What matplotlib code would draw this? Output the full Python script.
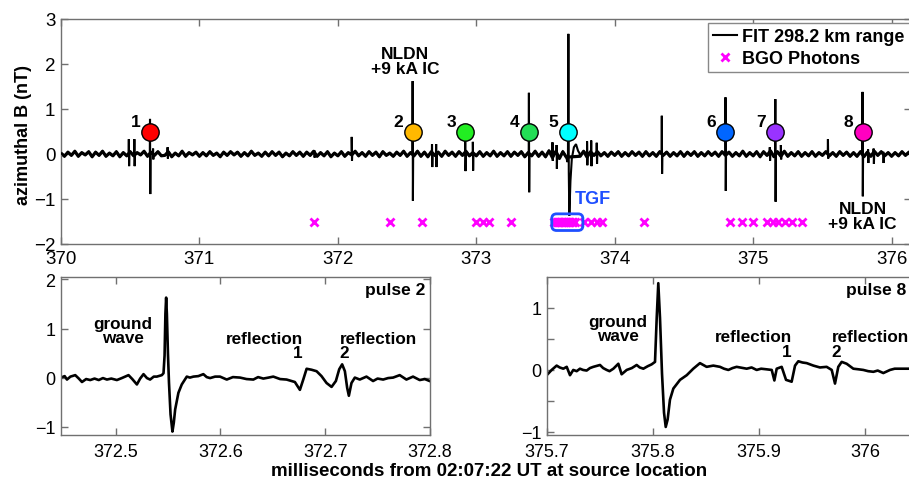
import numpy as np
import matplotlib
matplotlib.use("Agg")
import matplotlib.pyplot as plt
from matplotlib.patches import FancyBboxPatch

plt.rcParams['font.family'] = ['Liberation Sans', 'DejaVu Sans']

# ------------------------------------------------------------------ data
# top panel: baseline noise of FIT trace (hundredths of nT), every 0.025 ms from 370.0
base_start = 370.0
base_step = 0.025
base_noise = [
    2, -5, 4, -3, 6, -5, 3, -2, 5, -6,
    4, -3, 6, -5, 2, -4, 5, -6, 3, -4,
    5, -4, 3, -2, 6, -5, 4, -3, 5, -4,
    -3, 5, -6, 2, -4, 6, -5, 3, -2, 4,
    -5, 3, -4, 5, -3, 2, -6, 4, -3, 5,
    -2, 4, -5, 3, -4, 6, -3, 2, -5, 4,
    -4, 5, -3, 4, -6, 2, -4, 5, -3, 4,
    -5, 4, -3, 6, -5, 3, -4, 5, -6, 2,
    -4, 5, -5, 3, -2, 6, -4, 3, -5, 5,
    -3, 4, -6, 5, -3, 2, -5, 4, -3, 6,
    -5, 3, -4, 6, -5, 4, -6, 5, -3, 4,
    -5, 6, -3, 4, -5, 5, -3, 6, -4, 3,
    -4, 5, -5, 3, -4, 6, -5, 3, -4, 5,
    -5, 4, -3, 5, -6, 3, -4, 6, -5, 4,
    -6, 7, -8, 6, -10, 5, -7, 9, 6, 3,
    -5, 6, -7, 5, -3, 5, -4, 3, -5, 4,
    -3, 5, -5, 3, -4, 5, -3, 4, -5, 5,
    -4, 3, -5, 5, -3, 4, -5, 3, -4, 5,
    -5, 4, -3, 5, -5, 3, -4, 5, -3, 4,
    -5, 5, -3, 4, -5, 3, -4, 6, -5, 3,
    -4, 5, -6, 5, -3, 7, -6, 5, -5, 6,
    -5, 3, -4, 5, -5, 3, -4, 5, -5, 3,
    -3, 5, -4, 3, -5, 5, -3, 4, -5, 3,
    -5, 5, -6, 4, -5, 6, -3, 5, -4, 3,
    -5, 3, -4, 5, -3, 4, -5]

# sharp sferic spikes in the top trace: time (ms), max (nT), min (nT)
spike_t = [370.49, 370.53, 370.643, 370.665, 370.77, 371.83, 372.10, 372.54,
           372.68, 372.71, 372.92, 372.975, 373.38, 373.55, 373.58, 373.80,
           373.83, 373.87, 374.34, 374.80, 375.12, 375.16, 375.20, 375.54,
           375.79, 375.83, 375.87, 375.94]
spike_hi = [0.33, 0.33, 0.78, 0.12, 0.15, 0.08, 0.38, 1.62,
            0.22, 0.22, 0.45, 0.27, 1.36, 0.26, 0.20, 0.28,
            0.30, 0.25, 0.85, 1.26, 0.15, 1.22, 0.20, 0.33,
            1.38, 0.10, 0.12, 0.05]
spike_lo = [-0.27, -0.27, -0.89, -0.12, -0.10, -0.08, -0.15, -1.04,
            -0.29, -0.29, -0.38, -0.37, -0.85, -0.15, -0.33, -0.25,
            -0.27, -0.22, -0.44, -0.82, -0.15, -1.06, -0.12, -0.10,
            -0.94, -0.20, -0.22, -0.20]

# pulse 5 (TGF) waveform
p5_t = [373.658, 373.662, 373.665, 373.668, 373.672, 373.680, 373.690,
        373.705, 373.720, 373.735, 373.745]
p5_v = [-0.18, 0.0, 2.67, -0.40, -1.37, -0.60, -0.10, 0.15, 0.22, 0.07, 0.02]

# numbered pulses
pulse_t = [370.643, 372.54, 372.92, 373.38, 373.66, 374.80, 375.16, 375.79]
pulse_labels = ['1', '2', '3', '4', '5', '6', '7', '8']
pulse_colors = ['#ff0000', '#ffb800', '#22ee22', '#22dd55', '#00ffff',
                '#0066ff', '#9933ff', '#ff00c0']
pulse_marker_y = 0.5

# BGO photon arrival times
bgo_t = [371.83, 372.38, 372.61, 373.00, 373.05, 373.09, 373.25,
         373.56, 373.57, 373.58, 373.59, 373.60, 373.61, 373.62, 373.63,
         373.64, 373.65, 373.66, 373.67, 373.68, 373.69, 373.70, 373.71,
         373.78, 373.83, 373.87, 373.91, 374.21, 374.83, 374.92, 375.00,
         375.10, 375.14, 375.18, 375.23, 375.28, 375.35]
bgo_y = -1.5

# zoomed waveform of pulse 2 (ms, nT)
pulse2_trace = [
    (372.448, 0.0), (372.4515, 0.03), (372.4537, -0.04), (372.457, 0.02),
    (372.4616, 0.05), (372.465, -0.02), (372.468, -0.09), (372.472, -0.03),
    (372.4759, -0.05), (372.480, -0.02), (372.484, -0.05), (372.488, -0.01),
    (372.4918, -0.04), (372.496, -0.02), (372.5013, -0.05), (372.506, -0.01),
    (372.5124, 0.05), (372.516, -0.03), (372.5204, -0.14), (372.5235, -0.02),
    (372.5267, 0.07), (372.530, -0.01), (372.533, -0.04), (372.5365, 0.02),
    (372.5394, 0.02), (372.5442, 0.05), (372.5458, 0.09), (372.5468, 0.45),
    (372.5476, 1.30), (372.5483, 1.63), (372.5490, 1.30), (372.5500, 0.50),
    (372.5510, -0.10), (372.5525, -0.75), (372.5543, -1.10), (372.5556, -0.92),
    (372.5569, -0.65), (372.560, -0.31), (372.5632, -0.14), (372.568, 0.02),
    (372.571, 0.00), (372.5743, 0.02), (372.579, 0.03), (372.5838, 0.07),
    (372.587, 0.01), (372.5902, -0.01), (372.595, 0.02), (372.5997, 0.02),
    (372.6061, -0.04), (372.612, 0.01), (372.6188, 0.00), (372.625, -0.03),
    (372.6315, -0.04), (372.636, 0.01), (372.641, -0.02), (372.646, 0.00),
    (372.6505, 0.02), (372.657, -0.03), (372.6632, -0.04), (372.6711, -0.09),
    (372.6759, -0.25), (372.6791, -0.04), (372.6823, 0.18), (372.687, 0.16),
    (372.6918, 0.13), (372.6965, 0.03), (372.7013, -0.11), (372.7061, -0.19),
    (372.7102, -0.07), (372.7134, 0.17), (372.7162, 0.27), (372.7188, 0.13),
    (372.721, -0.21), (372.7226, -0.37), (372.7251, -0.11), (372.7283, 0.00),
    (372.733, -0.04), (372.7394, 0.02), (372.7457, -0.07), (372.750, -0.02),
    (372.7553, -0.04), (372.760, -0.01), (372.7648, 0.00), (372.7711, 0.05),
    (372.7775, -0.04), (372.7838, 0.02), (372.7902, -0.05), (372.795, -0.03),
    (372.7997, -0.07)]

# zoomed waveform of pulse 8 (ms, nT)
pulse8_trace = [
    (375.700, -0.08), (375.7044, 0.0), (375.7091, 0.07), (375.712, 0.04),
    (375.7154, 0.02), (375.7186, 0.05), (375.7217, -0.085), (375.7248, 0.0),
    (375.728, -0.02), (375.7311, 0.02), (375.734, 0.0), (375.7374, -0.01),
    (375.7405, 0.03), (375.7437, 0.05), (375.75, 0.08), (375.753, 0.03),
    (375.7563, 0.0), (375.759, -0.02), (375.7626, 0.02), (375.7673, 0.10),
    (375.7704, -0.07), (375.7752, 0.0), (375.780, 0.03), (375.7846, 0.08),
    (375.7875, 0.04), (375.7909, 0.02), (375.795, 0.06), (375.7987, 0.09),
    (375.8019, 0.13), (375.8035, 0.84), (375.805, 1.40), (375.8066, 0.84),
    (375.8085, -0.06), (375.8104, -0.69), (375.812, -0.92), (375.8138, -0.80),
    (375.816, -0.48), (375.8192, -0.30), (375.8255, -0.16), (375.8318, -0.085),
    (375.838, 0.02), (375.8443, 0.11), (375.8506, 0.05), (375.8569, 0.07),
    (375.8632, 0.05), (375.867, 0.02), (375.8711, 0.0), (375.875, 0.03),
    (375.8789, 0.05), (375.8884, 0.02), (375.893, 0.04), (375.8978, 0.0),
    (375.902, 0.02), (375.9072, 0.01), (375.912, 0.0), (375.9145, -0.17),
    (375.9167, 0.02), (375.9214, 0.05), (375.9255, -0.16), (375.9308, -0.19),
    (375.934, 0.07), (375.9371, 0.14), (375.941, 0.12), (375.945, 0.11),
    (375.9513, 0.07), (375.9575, 0.04), (375.9638, 0.05), (375.9686, 0.0),
    (375.9717, -0.22), (375.9748, 0.05), (375.978, 0.13), (375.9827, 0.10),
    (375.989, 0.02), (375.994, 0.01), (375.9984, 0.0), (376.003, -0.02),
    (376.0079, -0.03), (376.012, -0.01), (376.0173, -0.05), (376.0236, 0.0),
    (376.028, 0.02), (376.033, 0.02), (376.0409, 0.02), (376.05, 0.03)]

top_xticks = [370, 371, 372, 373, 374, 375, 376]
top_yticks = [-2, -1, 0, 1, 2, 3]
p2_xticks = [372.5, 372.6, 372.7, 372.8]
p2_yticks = [-1, 0, 1, 2]
p8_xticks = [375.7, 375.8, 375.9, 376.0]
p8_xticklabels = ['375.7', '375.8', '375.9', '376']
p8_yticks = [-1, -0.5, 0, 0.5, 1]
p8_yticklabels = ['\u22121', '', '0', '', '1']

# ------------------------------------------------------------------ build top trace
base_pts = []
for i, n in enumerate(base_noise):
    t = base_start + base_step * i
    if 373.655 < t < 373.745:
        continue
    base_pts.append((t, n / 100.0))
pts = list(base_pts)
for t, hi, lo in zip(spike_t, spike_hi, spike_lo):
    pts += [(t - 0.0015, 0.0), (t, hi), (t + 0.002, lo), (t + 0.004, 0.0)]
pts += list(zip(p5_t, p5_v))
pts.sort(key=lambda p: p[0])
top_t = [p[0] for p in pts]
top_v = [p[1] for p in pts]

# ------------------------------------------------------------------ figure
W, H = 909, 485
fig = plt.figure(figsize=(W / 100, H / 100), dpi=100)

spine_col = '#707070'
BOLD = dict(fontweight='bold')


def style(ax, size):
    for s in ax.spines.values():
        s.set_color(spine_col)
        s.set_linewidth(1.0)
    ax.tick_params(direction='in', length=5, width=1, color=spine_col,
                   labelsize=size, top=True, right=True, pad=4)


def fpos(l, t, r, b):
    return [l / W, 1 - b / H, (r - l) / W, (b - t) / H]


# top panel
ax = fig.add_axes(fpos(61, 20, 911, 245))
# the dense noise band of the record (drawn thicker)
ax.plot([p[0] for p in base_pts], [p[1] for p in base_pts], color='black',
        lw=2.3, zorder=2)
line, = ax.plot(top_t, top_v, color='black', lw=1.5, solid_joinstyle='miter',
                label='FIT 298.2 km range', zorder=3)
bgo, = ax.plot(bgo_t, [bgo_y] * len(bgo_t), ls='none', marker='x',
               color='#ff00ff', ms=5.5, mew=2, label='BGO Photons', zorder=4)
for t, lab, c in zip(pulse_t, pulse_labels, pulse_colors):
    ax.plot([t], [pulse_marker_y], marker='o', ms=12.5, mfc=c, mec='black',
            mew=1.0, zorder=5)
    ax.annotate(lab, (t, pulse_marker_y), xytext=(-14, 10),
                textcoords='offset pixels', ha='center', va='center',
                fontsize=12.5, **BOLD)
ax.text(372.484, 2.07, 'NLDN\n+9 kA IC', ha='center', va='center',
        fontsize=12.5, linespacing=0.95, **BOLD)
ax.text(375.79, -1.38, 'NLDN\n+9 kA IC', ha='center', va='center',
        fontsize=12.5, linespacing=0.95, **BOLD)
ax.text(373.845, -1.0, 'TGF', color='#1f4fff', ha='center', va='center',
        fontsize=13, **BOLD)
box = FancyBboxPatch((373.545, -1.70), 0.225, 0.37,
                     boxstyle='round,pad=0,rounding_size=0.035',
                     mutation_aspect=3.08, fc='none', ec='#1f4fff', lw=2,
                     zorder=6)
ax.add_patch(box)
ax.set_xlim(370, 376.14)
ax.set_ylim(-2, 3)
ax.set_xticks(top_xticks)
ax.set_yticks(top_yticks)
style(ax, 13.5)
ax.set_ylabel('azimuthal B (nT)', fontsize=13, **BOLD)
ax.yaxis.set_label_coords(-0.034, 0.49)
leg = ax.legend(handles=[line, bgo], loc='upper left',
                bbox_to_anchor=((708 - 61) / 850, 1 - 4 / 225),
                borderaxespad=0, frameon=True, fancybox=False,
                edgecolor='#888888', framealpha=1, borderpad=0.3,
                handlelength=1.3, handletextpad=0.3, labelspacing=0.25,
                prop=dict(size=13, weight='bold'))
leg.get_frame().set_linewidth(1.0)

# bottom-left: pulse 2
ax2 = fig.add_axes(fpos(61, 278, 430, 436))
ax2.plot([p[0] for p in pulse2_trace], [p[1] for p in pulse2_trace],
         color='black', lw=1.9)
ax2.set_xlim(372.448, 372.8)
ax2.set_ylim(-1.17, 2.05)
ax2.set_xticks(p2_xticks)
ax2.set_yticks(p2_yticks)
style(ax2, 13)
ax2.tick_params(axis='x', pad=6)
ax2.text(1 - 5 / 369, 1 - 12 / 158, 'pulse 2', transform=ax2.transAxes,
         ha='right', va='center', fontsize=12.5, **BOLD)
ax2.text(372.507, 0.96, 'ground\nwave', ha='center', va='center',
         fontsize=12.3, linespacing=0.95, **BOLD)
ax2.text(372.6788, 0.66, 'reflection\n1', ha='right', va='center',
         multialignment='right', fontsize=12.3, linespacing=0.95, **BOLD)
ax2.text(372.714, 0.66, 'reflection\n2', ha='left', va='center',
         multialignment='left', fontsize=12.3, linespacing=0.95, **BOLD)

# bottom-right: pulse 8
ax3 = fig.add_axes(fpos(547, 278, 918, 436))
ax3.plot([p[0] for p in pulse8_trace], [p[1] for p in pulse8_trace],
         color='black', lw=1.9)
ax3.set_xlim(375.7, 376.05)
ax3.set_ylim(-1.05, 1.5)
ax3.set_xticks(p8_xticks)
ax3.set_xticklabels(p8_xticklabels)
ax3.set_yticks(p8_yticks)
ax3.set_yticklabels(p8_yticklabels)
style(ax3, 13)
ax3.tick_params(axis='x', pad=6)
ax3.text((906 - 547) / 371, 1 - 12 / 158, 'pulse 8', transform=ax3.transAxes,
         ha='right', va='center', fontsize=12.5, **BOLD)
ax3.text(375.767, 0.67, 'ground\nwave', ha='center', va='center',
         fontsize=12.3, linespacing=0.95, **BOLD)
ax3.text(375.9308, 0.42, 'reflection\n1', ha='right', va='center',
         multialignment='right', fontsize=12.3, linespacing=0.95, **BOLD)
ax3.text(375.9686, 0.42, 'reflection\n2', ha='left', va='center',
         multialignment='left', fontsize=12.3, linespacing=0.95, **BOLD)

fig.text(489 / W, 1 - 472 / H, 'milliseconds from 02:07:22 UT at source location',
         ha='center', va='center', fontsize=13.5, **BOLD)

fig.savefig('out.png', dpi=100)
